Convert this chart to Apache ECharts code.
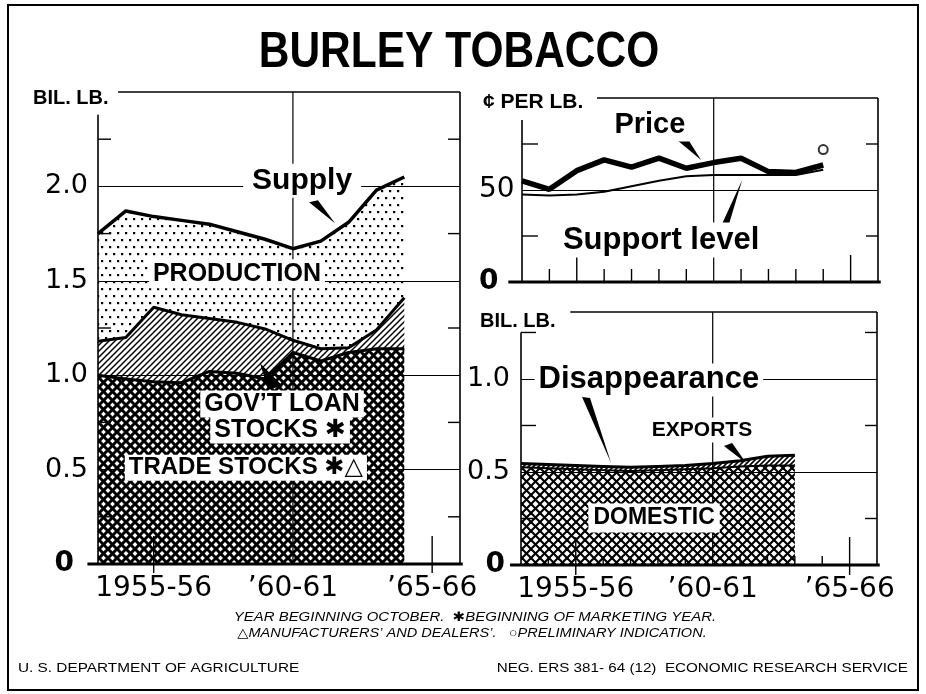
<!DOCTYPE html>
<html><head><meta charset="utf-8">
<script src="https://cdn.jsdelivr.net/npm/echarts@6/dist/echarts.min.js"></script>
<style>html,body{margin:0;padding:0;background:#fff}#c{width:926px;height:694px}</style>
</head><body><div id="c"></div>
<script>
// ---------- DATA ----------
const xCategories   = ['1953','1954','1955','1956','1957','1958','1959','1960','1961','1962','1963','1964','1965','1966'];
const tradeStocks   = [1.00,0.98,0.965,0.96,1.02,1.01,0.98,1.12,1.075,1.12,1.14,1.14];
const govLoanStocks = [0.18,0.22,0.395,0.36,0.28,0.27,0.265,0.065,0.065,0.025,0.10,0.27];
const production    = [0.57,0.67,0.48,0.50,0.50,0.48,0.475,0.485,0.57,0.665,0.74,0.64];
const price         = [55,50.4,60.5,66.4,62.4,67.3,61.8,64.9,67.3,60,59.5,63.6];
const supportLevel  = [47.5,47,47.5,49,52,55,57.5,58.2,58.2,58.2,58.2,61];
const preliminary   = [['1964',72]];
const domestic      = [0.525,0.52,0.515,0.51,0.505,0.51,0.515,0.52,0.53,0.535,0.535];
const exportsLb     = [0.02,0.02,0.02,0.02,0.02,0.02,0.02,0.025,0.03,0.05,0.055];
const xTickLabels   = {'1955':'1955-56','1960':'\u201960-61','1965':'\u201965-66'};

// ---------- patterns ----------
function mk(w,h,draw){const c=document.createElement('canvas');c.width=w;c.height=h;const g=c.getContext('2d');draw(g,w,h);return {image:c,repeat:'repeat'};}
function hatch(s,lw){return mk(s,s,(g)=>{g.strokeStyle='#000';g.lineWidth=lw;g.lineCap='square';for(let k=-1;k<=1;k++){g.beginPath();g.moveTo(k*s,s);g.lineTo(k*s+s,0);g.stroke();}});}
function cross(s,lw){return mk(s,s,(g)=>{g.strokeStyle='#000';g.lineWidth=lw;g.lineCap='square';for(let k=-1;k<=1;k++){g.beginPath();g.moveTo(k*s,s);g.lineTo(k*s+s,0);g.stroke();g.beginPath();g.moveTo(k*s,0);g.lineTo(k*s+s,s);g.stroke();}});}
const dots = mk(8,14,(g)=>{g.fillStyle='#000';g.fillRect(1,1,2.2,2.2);g.fillRect(5,8,2.2,2.2);});
const loanHatch = hatch(6,1.5);
const tradeCross = cross(9,3);
const domCross = cross(9,2.1);
const expHatch = hatch(5,1.6);

const FF = "'Liberation Sans', 'DejaVu Sans', sans-serif";
const NUM = "'DejaVu Sans', sans-serif";

const chart = echarts.init(document.getElementById('c'), null, {renderer:'canvas'});
const xLab = {interval:0,formatter:v=>xTickLabels[v]||'', fontSize:28, fontFamily:NUM, color:'#000', margin:11};
function xa(gi,show){return {gridIndex:gi,type:'category',data:xCategories,boundaryGap:false,axisLine:{show:false},axisTick:{show:false},splitLine:{show:false},axisLabel:show?xLab:{show:false}};}
function xv(gi){return {gridIndex:gi,type:'value',min:1953,max:1966,show:false,axisLine:{show:false},axisTick:{show:false},splitLine:{show:false},axisLabel:{show:false}};}
const split = {show:true,lineStyle:{color:'#000',width:1},showMinLine:false,showMaxLine:false};
const richB = pr=>({b:{fontWeight:'bold',fontSize:28,fontFamily:NUM,color:'#000',padding:[0,pr,0,0]}});

chart.setOption({
  animation:false,
  backgroundColor:'#fff',
  textStyle:{fontFamily:FF},
  grid:[
    {left:98,top:92,width:362,height:472},
    {left:522,top:98,width:356,height:184},
    {left:521,top:312,width:356,height:253}
  ],
  xAxis:[xa(0,true),xa(1,false),xa(2,true),xv(0),xv(1),xv(2)],
  yAxis:[
    {gridIndex:0,type:'value',min:0,max:2.5,interval:0.5,axisLine:{show:false},axisTick:{show:false},splitLine:split,
     axisLabel:{formatter:v=>v===0?'{b|0}':(v<2.4?v.toFixed(1):''),rich:richB(14),fontSize:27,fontFamily:NUM,color:'#000',margin:10}},
    {gridIndex:1,type:'value',min:0,max:100,interval:50,axisLine:{show:false},axisTick:{show:false},splitLine:split,
     axisLabel:{formatter:v=>v===0?'{b|0}':(v===50?'50':''),rich:richB(0),fontSize:28,fontFamily:NUM,color:'#000',margin:43,align:'left'}},
    {gridIndex:2,type:'value',min:0,max:1.36,interval:0.5,axisLine:{show:false},axisTick:{show:false},splitLine:split,
     axisLabel:{formatter:v=>v===0?'{b|0}':((v===0.5||v===1)?v.toFixed(1):''),rich:richB(5),fontSize:27,fontFamily:NUM,color:'#000',margin:11}}
  ],
  series:[
    {name:'Trade stocks',type:'line',xAxisIndex:0,yAxisIndex:0,stack:'L',showSymbol:false,data:tradeStocks,
     lineStyle:{color:'#000',width:3},areaStyle:{color:tradeCross,opacity:1},z:3},
    {name:"Gov't loan stocks",type:'line',xAxisIndex:0,yAxisIndex:0,stack:'L',showSymbol:false,data:govLoanStocks,
     lineStyle:{color:'#000',width:3},areaStyle:{color:loanHatch,opacity:1},z:3},
    {name:'Production',type:'line',xAxisIndex:0,yAxisIndex:0,stack:'L',showSymbol:false,data:production,
     lineStyle:{color:'#000',width:3.5},areaStyle:{color:dots,opacity:1},z:3},
    {name:'Support level',type:'line',xAxisIndex:1,yAxisIndex:1,showSymbol:false,data:supportLevel,
     lineStyle:{color:'#000',width:2},z:3},
    {name:'Price',type:'line',xAxisIndex:1,yAxisIndex:1,showSymbol:false,data:price,
     lineStyle:{color:'#000',width:5.5},z:4},
    {name:'Preliminary',type:'scatter',xAxisIndex:1,yAxisIndex:1,data:preliminary,symbol:'circle',symbolSize:9,
     itemStyle:{color:'#fff',borderColor:'#000',borderWidth:2},z:5},
    {name:'Domestic',type:'line',xAxisIndex:2,yAxisIndex:2,stack:'R',showSymbol:false,data:domestic,
     lineStyle:{color:'#000',width:2},areaStyle:{color:domCross,opacity:1},z:3},
    {name:'Exports',type:'line',xAxisIndex:2,yAxisIndex:2,stack:'R',showSymbol:false,data:exportsLb,
     lineStyle:{color:'#000',width:3},areaStyle:{color:expHatch,opacity:1},z:3}
  ]
});

// ---------- frames, ticks, annotations ----------
const P=(g,x,y)=>chart.convertToPixel({xAxisIndex:3+g,yAxisIndex:g},[x,y]);
const G=[];
function line(a,b,w,z){G.push({type:'line',silent:true,z:z||1,shape:{x1:a[0],y1:a[1],x2:b[0],y2:b[1]},style:{stroke:'#000',lineWidth:w}});}
function seg(g,x1,y1,x2,y2,w,z){line(P(g,x1,y1),P(g,x2,y2),w,z);}
const frames=[[0,2.5,2.38,1953.72,1952.62],[1,100,88,1955.74,1952.5],[2,1.36,1.25,1954.8,1952.6]];
frames.forEach(([g,ym,at,ts,xs])=>{
  seg(g,1953,0,1953,at,1.6);
  seg(g,1966,0,1966,ym,1.6);
  seg(g,ts,ym,1966,ym,1.6);
  seg(g,1960,0,1960,ym,1.2,2);
  seg(g,xs,0,1966.1,0,3.2,6);
});
function ytick(g,v,lenL,lenR){const a=P(g,1953,v),b=P(g,1966,v);line(a,[a[0]+lenL,a[1]],1.4,6);line([b[0]-lenR,b[1]],b,1.4,6);}
[0.25,0.75,1.25,1.75,2.25].forEach(v=>ytick(0,v,13,12));
[25,75].forEach(v=>ytick(1,v,16,12));
[0.25,0.75,1.25].forEach(v=>ytick(2,v,15,12));
function xtick(g,yr,up,down){const a=P(g,yr,0);line([a[0],a[1]+down],[a[0],a[1]-up],1.4,6);}
[1955,1965].forEach(y=>xtick(0,y,28,9));
[1954,1956,1957,1958,1959,1961,1962,1963,1964].forEach(y=>xtick(1,y,13,0));
[1955,1965].forEach(y=>xtick(1,y,27,0));
[1954,1956,1957,1958,1959,1961,1962,1963,1964].forEach(y=>xtick(2,y,9,0));
[1955,1965].forEach(y=>xtick(2,y,28,10));

function wedge(g,pts){G.push({type:'polygon',silent:true,z:100,shape:{points:pts.map(p=>P(g,p[0],p[1]))},style:{fill:'#000'}});}
wedge(0,[[1960.58,1.916],[1960.90,1.926],[1961.51,1.805]]);
wedge(0,[[1958.82,1.063],[1959.10,0.926],[1959.64,0.942]]);
wedge(1,[[1958.66,77.2],[1959.03,78.3],[1959.54,66.3]]);
wedge(1,[[1960.27,30.4],[1960.56,31.5],[1961.04,55.4]]);
wedge(2,[[1955.23,0.903],[1955.52,0.898],[1956.29,0.548]]);
wedge(2,[[1960.41,0.64],[1960.71,0.656],[1961.22,0.548]]);

function label(g,x,y,text,size,pad){const p=P(g,x,y);G.push({type:'text',silent:true,z:100,x:p[0],y:p[1],
  style:{text,font:'bold '+size+'px '+FF,fill:'#000',align:'center',verticalAlign:'middle',textAlign:'center',textVerticalAlign:'middle',
  backgroundColor:'#fff',padding:pad}});}
label(0,1960.33,2.03,'Supply',30,[2,9]);
label(0,1957.99,1.537,'PRODUCTION',25,[2,4]);
label(0,1959.61,0.847,'GOV\u2019T LOAN',25,[1,4]);
label(0,1959.54,0.71,'STOCKS \u2731',25,[1,4]);
label(0,1958.31,0.51,'TRADE STOCKS \u2731\u25B3',24,[1,4]);
label(1,1957.67,85.3,'Price',29,[2,4]);
label(1,1958.08,22.8,'Support level',31,[2,4]);
label(2,1957.67,0.995,'Disappearance',31,[1,4]);
label(2,1959.61,0.726,'EXPORTS',21,[2,4]);
label(2,1957.86,0.253,'DOMESTIC',23,[3,5]);

function txt(x,y,text,font,align,sx){G.push({type:'text',silent:true,z:100,x,y,scaleX:sx||1,style:{text,font,fill:'#000',align:align||'left',textAlign:align||'left',verticalAlign:'middle',textVerticalAlign:'middle'}});}
G.push({type:'rect',silent:true,z:0,shape:{x:8,y:5,width:910,height:685},style:{fill:null,stroke:'#000',lineWidth:2}});
G.push({type:'text',silent:true,z:100,x:459,y:53,scaleX:0.85,style:{text:'BURLEY TOBACCO',font:'bold 50px '+FF,fill:'#000',align:'center',textAlign:'center',verticalAlign:'middle',textVerticalAlign:'middle'}});
txt(33,98,'BIL. LB.','bold 20px '+FF);
txt(483,102,'\u00A2 PER LB.','bold 21px '+FF);
txt(480,321,'BIL. LB.','bold 20px '+FF);
txt(475,617,'YEAR BEGINNING OCTOBER.  \u2731BEGINNING OF MARKETING YEAR.','italic 13px '+FF,'center',1.15);
txt(472,633,'\u25B3MANUFACTURERS\u2019 AND DEALERS\u2019.   \u25CBPRELIMINARY INDICATION.','italic 13px '+FF,'center',1.12);
txt(18,668,'U. S. DEPARTMENT OF AGRICULTURE','13px '+FF,'left',1.18);
txt(908,668,'NEG. ERS 381- 64 (12)  ECONOMIC RESEARCH SERVICE','13px '+FF,'right',1.17);
chart.setOption({graphic:{elements:G}});
</script></body></html>
